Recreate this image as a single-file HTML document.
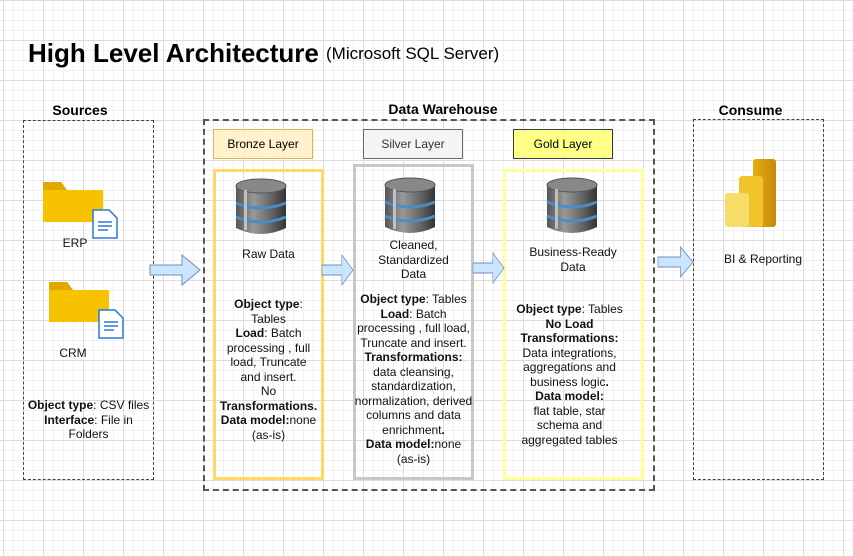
<!DOCTYPE html>
<html><head><meta charset="utf-8"><style>
body{margin:0;width:853px;height:556px;overflow:hidden;position:relative;font-family:"Liberation Sans",Arial,sans-serif;
background-color:#fff;
background-image:linear-gradient(#dcdcdc 1px,transparent 1px),linear-gradient(90deg,#dcdcdc 1px,transparent 1px),linear-gradient(#f0f0f0 1px,transparent 1px),linear-gradient(90deg,#f0f0f0 1px,transparent 1px);
background-size:40px 40px,40px 40px,10px 10px,10px 10px;background-position:3px 0,3px 0,3px 0,3px 0;}
.a{position:absolute}
.t{position:absolute;text-align:center;font-size:12px;color:#111;line-height:14.5px}
.h{position:absolute;font-weight:bold;font-size:14px;text-align:center}
.lbl{position:absolute;box-sizing:border-box;height:30px;line-height:28px;text-align:center;font-size:12px;width:100px}
</style></head><body>
<div class="a" style="left:28px;top:38px;font-size:26px;font-weight:bold">High Level Architecture</div>
<div class="a" style="left:326px;top:44px;font-size:17px">(Microsoft SQL Server)</div>

<div class="h" style="left:30px;width:100px;top:102px">Sources</div>
<div class="h" style="left:343px;width:200px;top:101px">Data Warehouse</div>
<div class="h" style="left:693px;width:115px;top:102px">Consume</div>

<div class="a" style="left:23px;top:120px;width:129px;height:358px;border:1px dashed #444"></div>
<div class="a" style="left:203px;top:119px;width:448px;height:368px;border:2px dashed #555"></div>
<div class="a" style="left:693px;top:119px;width:129px;height:359px;border:1px dashed #444"></div>

<div class="lbl" style="left:213px;top:129px;background:#fff2cc;border:1px solid #d6b656">Bronze Layer</div>
<div class="lbl" style="left:363px;top:129px;background:#f5f5f5;border:1px solid #666;color:#333">Silver Layer</div>
<div class="lbl" style="left:513px;top:129px;background:#ffff88;border:1px solid #36393d">Gold Layer</div>

<div class="a" style="left:213px;top:169px;width:105px;height:305px;border:3px solid #ffd966"></div>
<div class="a" style="left:353px;top:164px;width:115px;height:310px;border:3px solid #c8c8c8"></div>
<div class="a" style="left:503px;top:169px;width:135px;height:305px;border:3px solid #ffff99"></div>

<svg class="a" style="left:0;top:0" width="853" height="556">
<defs>
<linearGradient id="db" x1="0" x2="1"><stop offset="0" stop-color="#555"/><stop offset=".35" stop-color="#999"/><stop offset=".7" stop-color="#666"/><stop offset="1" stop-color="#333"/></linearGradient>
<linearGradient id="pb1" x1="0" x2="1"><stop offset="0" stop-color="#e8ab10"/><stop offset="1" stop-color="#c48a08"/></linearGradient>
<g id="dbi">
<path d="M0 8 L0 50 Q25 62 50 50 L50 8 Z" fill="url(#db)"/>
<ellipse cx="25" cy="8" rx="25" ry="7" fill="#888" stroke="#555"/>
<path d="M0 25 Q25 35 50 25" stroke="#4a8cc8" stroke-width="3" fill="none"/>
<path d="M0 39 Q25 49 50 39" stroke="#4a8cc8" stroke-width="3" fill="none"/>
<rect x="8" y="12" width="3" height="40" fill="#ddd" opacity=".7"/>
</g>
<g id="fold">
<path d="M0 6 L0 42 L60 42 L60 10 L24 10 L18 2 L0 2 Z" fill="#f7c300"/>
<path d="M0 2 L18 2 L24 10 L0 10 Z" fill="#e0a800"/>
<path d="M50 30 L66 30 L74 38 L74 58 L50 58 Z" fill="#fff" stroke="#2a7ad5" stroke-width="1.5"/>
<path d="M55 42h14M55 46h14M55 50h10" stroke="#2a7ad5" stroke-width="1.5"/>
</g>
<path id="ar" d="M0 -5 L32 -5 L32 -15 L50 0 L32 15 L32 5 L0 5 Z" fill="#cce5ff" stroke="#6c8ebf" stroke-width="1"/>
</defs>
<use href="#fold" x="43" y="180"/>
<use href="#fold" x="49" y="280"/>
<use href="#dbi" x="236" y="178"/>
<use href="#dbi" x="385" y="177"/>
<use href="#dbi" x="547" y="177"/>
<g transform="translate(150,270)"><use href="#ar"/></g>
<g transform="translate(322,270) scale(0.62,1)"><use href="#ar"/></g>
<g transform="translate(473,268) scale(0.62,1)"><use href="#ar"/></g>
<g transform="translate(658,262) scale(0.7,1)"><use href="#ar"/></g>
<rect x="753" y="159" width="23" height="68" rx="3" fill="url(#pb1)"/>
<rect x="739" y="176" width="24" height="51" rx="3" fill="#f0c42a"/>
<rect x="725" y="193" width="24" height="34" rx="3" fill="#f8dc6a"/>
</svg>

<div class="t" style="left:45px;width:60px;top:236px">ERP</div>
<div class="t" style="left:43px;width:60px;top:346px">CRM</div>
<div class="t" style="left:23px;width:131px;top:398px"><b>Object type</b>: CSV files<br><b>Interface</b>: File in<br>Folders</div>

<div class="t" style="left:213px;width:111px;top:247px">Raw Data</div>
<div class="t" style="left:216px;width:105px;top:297px"><b>Object type</b>:<br>Tables<br><b>Load</b>: Batch<br>processing , full<br>load, Truncate<br>and insert.<br>No<br><b>Transformations.</b><br><b>Data model:</b>none<br>(as-is)</div>

<div class="t" style="left:353px;width:121px;top:238px">Cleaned,<br>Standardized<br>Data</div>
<div class="t" style="left:353px;width:121px;top:292px"><b>Object type</b>: Tables<br><b>Load</b>: Batch<br>processing , full load,<br>Truncate and insert.<br><b>Transformations:</b><br>data cleansing,<br>standardization,<br>normalization, derived<br>columns and data<br>enrichment<b>.</b><br><b>Data model:</b>none<br>(as-is)</div>

<div class="t" style="left:503px;width:140px;top:245px">Business-Ready<br>Data</div>
<div class="t" style="left:503px;width:133px;top:302px"><b>Object type</b>: Tables<br><b>No Load</b><br><b>Transformations:</b><br>Data integrations,<br>aggregations and<br>business logic<b>.</b><br><b>Data model:</b><br>flat table, star<br>schema and<br>aggregated tables</div>

<div class="t" style="left:713px;width:100px;top:252px">BI &amp; Reporting</div>
</body></html>
